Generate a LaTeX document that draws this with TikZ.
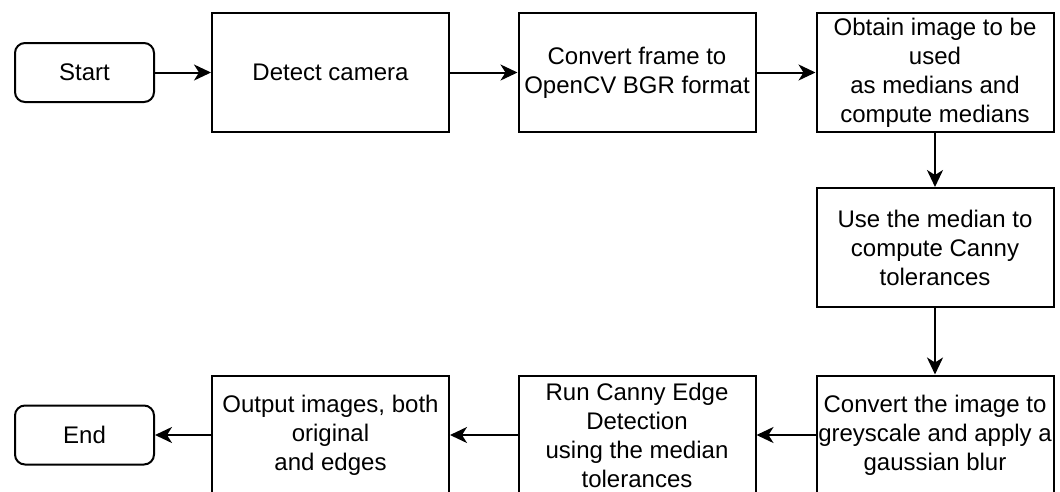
\documentclass[tikz,border=0pt]{standalone}
\usepackage{fontspec}
\setmainfont{Liberation Sans}
\usetikzlibrary{arrows.meta}
\tikzset{
  stepbox/.style={draw, line width=2pt, minimum width=237pt, minimum height=119pt,
    align=center, inner sep=1pt, font=\fontsize{24}{29}\selectfont},
  termbox/.style={stepbox, rounded corners=10pt, minimum width=139pt, minimum height=59pt},
  flow/.style={-{Stealth[length=17pt,width=16pt,inset=5pt]}, line width=2pt},
}
\begin{document}
\begin{tikzpicture}[x=1pt,y=-1pt]
\useasboundingbox (0,0) rectangle (1060,491);
% top row
\node[termbox] (start) at (84.5,72.5) {Start};
\node[stepbox] (detect) at (330.5,72.5) {Detect camera};
\node[stepbox] (convert) at (637,72.5) {Convert frame to\\OpenCV BGR format};
\node[stepbox] (obtain) at (935,72.5) {Obtain image to be\\used\\as medians and\\compute medians};
% right column
\node[stepbox] (tolerance) at (935,247.5) {Use the median to\\compute Canny\\tolerances};
% bottom row
\node[stepbox] (grey) at (935,435) {Convert the image to\\greyscale and apply a\\gaussian blur};
\node[stepbox] (canny) at (637,435) {Run Canny Edge\\Detection\\using the median\\tolerances};
\node[stepbox] (output) at (330.5,435) {Output images, both\\original\\and edges};
\node[termbox] (end) at (84.5,435) {End};
% connectors
\draw[flow] (start) -- (detect);
\draw[flow] (detect) -- (convert);
\draw[flow] (convert) -- (obtain);
\draw[flow] (obtain) -- (tolerance);
\draw[flow] (tolerance) -- (grey);
\draw[flow] (grey) -- (canny);
\draw[flow] (canny) -- (output);
\draw[flow] (output) -- (end);
\end{tikzpicture}
\end{document}
